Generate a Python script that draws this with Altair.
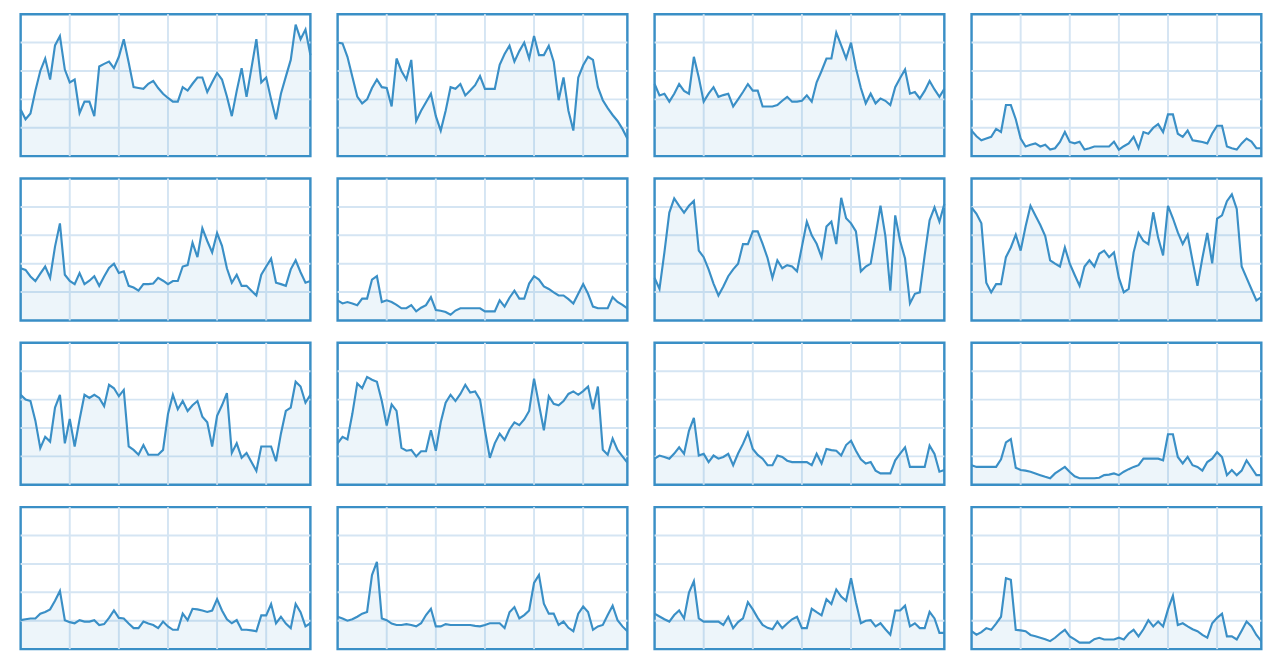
import altair as alt
import pandas as pd

minutes = list(range(60))
x_grid = [10, 20, 30, 40, 50]
y_grid = [1, 2, 3, 4]

p01 = [1.64,1.3,1.5,2.3,3.0,3.44,2.7,3.9,4.23,3.05,2.6,2.7,1.52,1.92,1.92,1.41,3.16,3.25,3.33,3.1,3.5,4.12,3.3,2.43,2.4,2.37,2.55,2.65,2.4,2.2,2.05,1.92,1.92,2.43,2.31,2.55,2.77,2.77,2.26,2.6,2.93,2.7,2.1,1.41,2.3,3.1,2.09,3.1,4.12,2.6,2.77,2.0,1.3,2.2,2.8,3.39,4.63,4.12,4.46,3.56]
p02 = [4.0,3.97,3.5,2.8,2.1,1.86,2.0,2.4,2.7,2.43,2.4,1.75,3.44,3.0,2.7,3.39,1.24,1.6,1.9,2.2,1.41,0.9,1.6,2.43,2.37,2.54,2.14,2.31,2.5,2.82,2.37,2.37,2.37,3.22,3.6,3.89,3.33,3.7,4.0,3.44,4.23,3.56,3.56,3.89,3.33,1.97,2.77,1.6,0.9,2.77,3.2,3.5,3.39,2.43,1.97,1.69,1.45,1.24,0.96,0.62]
p03 = [2.54,2.14,2.2,1.92,2.2,2.54,2.3,2.2,3.5,2.77,1.92,2.2,2.43,2.09,2.15,2.2,1.75,2.0,2.26,2.54,2.31,2.31,1.75,1.75,1.75,1.8,1.95,2.09,1.92,1.92,1.95,2.14,1.92,2.6,3.0,3.44,3.44,4.35,3.9,3.44,4.0,3.1,2.4,1.86,2.2,1.86,2.03,1.95,1.8,2.43,2.75,3.05,2.2,2.26,2.03,2.3,2.65,2.35,2.09,2.37]
p04 = [0.9,0.7,0.56,0.62,0.68,0.96,0.85,1.8,1.8,1.3,0.62,0.34,0.4,0.45,0.34,0.4,0.23,0.28,0.5,0.85,0.5,0.45,0.51,0.23,0.28,0.34,0.34,0.34,0.34,0.51,0.23,0.35,0.45,0.68,0.28,0.85,0.79,1.0,1.13,0.85,1.47,1.47,0.79,0.68,0.9,0.56,0.53,0.5,0.45,0.8,1.07,1.07,0.34,0.28,0.23,0.45,0.62,0.51,0.28,0.28]
p05 = [1.84,1.78,1.55,1.39,1.65,1.9,1.5,2.6,3.42,1.61,1.39,1.28,1.67,1.28,1.4,1.56,1.22,1.55,1.85,2.0,1.67,1.73,1.22,1.16,1.05,1.28,1.28,1.3,1.5,1.4,1.28,1.39,1.39,1.9,1.95,2.74,2.23,3.25,2.8,2.4,3.08,2.63,1.84,1.33,1.61,1.22,1.22,1.05,0.88,1.61,1.9,2.18,1.33,1.28,1.22,1.8,2.12,1.7,1.33,1.39]
p06 = [0.71,0.6,0.65,0.6,0.54,0.77,0.77,1.44,1.56,0.65,0.71,0.65,0.55,0.43,0.43,0.54,0.32,0.45,0.54,0.82,0.37,0.34,0.3,0.2,0.35,0.43,0.43,0.43,0.43,0.43,0.32,0.32,0.32,0.71,0.49,0.8,1.05,0.77,0.77,1.3,1.56,1.44,1.2,1.11,0.99,0.88,0.88,0.75,0.6,0.94,1.28,0.94,0.49,0.43,0.43,0.43,0.82,0.65,0.55,0.43]
p07 = [1.5,1.11,2.4,3.8,4.3,4.04,3.8,4.04,4.21,2.46,2.23,1.8,1.3,0.88,1.2,1.56,1.8,2.0,2.69,2.69,3.14,3.14,2.7,2.2,1.5,2.12,1.84,1.95,1.9,1.73,2.6,3.48,3.0,2.7,2.23,3.31,3.48,2.69,4.32,3.6,3.42,3.14,1.73,1.9,2.0,3.0,4.04,2.97,1.05,3.7,2.8,2.18,0.6,0.94,0.99,2.3,3.53,3.98,3.48,4.1]
p08 = [3.98,3.76,3.42,1.33,0.99,1.28,1.28,2.23,2.57,3.02,2.46,3.31,4.04,3.7,3.36,2.97,2.12,2.0,1.9,2.57,2.0,1.6,1.22,1.9,2.12,1.9,2.35,2.46,2.23,2.4,1.5,0.99,1.11,2.4,3.08,2.8,2.69,3.81,2.91,2.29,4.04,3.6,3.1,2.69,3.02,2.1,1.22,2.2,3.08,2.01,3.59,3.7,4.2,4.44,3.93,1.9,1.5,1.1,0.71,0.82]
p09 = [3.17,3.0,2.95,2.26,1.29,1.69,1.52,2.72,3.17,1.46,2.32,1.35,2.3,3.17,3.06,3.17,3.06,2.77,3.52,3.4,3.12,3.34,1.35,1.23,1.06,1.4,1.06,1.06,1.06,1.23,2.49,3.17,2.66,2.95,2.6,2.8,2.95,2.4,2.2,1.35,2.43,2.8,3.23,1.12,1.46,0.95,1.12,0.8,0.49,1.35,1.35,1.35,0.83,1.8,2.6,2.72,3.63,3.46,2.89,3.17]
p10 = [1.46,1.69,1.6,2.5,3.57,3.4,3.8,3.7,3.63,2.95,2.09,2.83,2.6,1.3,1.2,1.23,1.0,1.18,1.18,1.92,1.2,2.2,2.89,3.17,2.95,3.2,3.52,3.25,3.29,3.0,1.92,0.95,1.46,1.8,1.58,1.95,2.2,2.1,2.3,2.6,3.74,2.83,1.92,3.12,2.85,2.8,2.95,3.2,3.29,3.17,3.3,3.46,2.66,3.46,1.23,1.06,1.63,1.23,1.0,0.78]
p11 = [0.92,1.03,0.98,0.92,1.1,1.32,1.09,1.9,2.36,1.03,1.09,0.8,1.03,0.92,0.98,1.09,0.69,1.1,1.44,1.84,1.26,1.05,0.92,0.69,0.69,1.03,0.98,0.85,0.8,0.8,0.8,0.8,0.69,1.09,0.75,1.26,1.22,1.2,1.03,1.4,1.55,1.2,0.9,0.75,0.8,0.5,0.4,0.4,0.4,0.86,1.1,1.32,0.63,0.63,0.63,0.63,1.38,1.09,0.46,0.52]
p12 = [0.69,0.63,0.63,0.63,0.63,0.63,0.9,1.49,1.61,0.6,0.52,0.5,0.46,0.4,0.34,0.28,0.23,0.4,0.52,0.63,0.45,0.3,0.23,0.23,0.23,0.23,0.25,0.34,0.36,0.4,0.34,0.46,0.55,0.63,0.69,0.92,0.92,0.92,0.92,0.86,1.78,1.78,0.98,0.75,0.98,0.69,0.63,0.5,0.8,0.92,1.15,0.98,0.34,0.52,0.34,0.5,0.86,0.6,0.34,0.34]
p13 = [1.02,1.05,1.08,1.08,1.25,1.31,1.4,1.7,2.05,1.02,0.95,0.91,1.02,0.97,0.97,1.02,0.85,0.88,1.1,1.36,1.1,1.08,0.9,0.74,0.74,0.97,0.9,0.85,0.74,0.97,0.8,0.68,0.68,1.25,1.02,1.42,1.4,1.36,1.31,1.36,1.76,1.36,1.05,0.91,1.02,0.68,0.68,0.66,0.63,1.19,1.19,1.59,0.91,1.14,0.9,0.74,1.59,1.3,0.8,0.91]
p14 = [1.14,1.08,1.0,1.05,1.14,1.25,1.31,2.61,3.07,1.08,1.02,0.9,0.85,0.85,0.88,0.85,0.8,0.91,1.2,1.42,0.8,0.8,0.88,0.85,0.85,0.85,0.85,0.85,0.82,0.8,0.85,0.91,0.91,0.91,0.74,1.3,1.48,1.08,1.2,1.36,2.33,2.61,1.6,1.25,1.25,0.85,0.97,0.75,0.63,1.25,1.5,1.31,0.68,0.8,0.85,1.2,1.53,1.02,0.8,0.63]
p15 = [1.25,1.15,1.05,0.97,1.2,1.36,1.08,1.99,2.39,1.08,0.97,0.97,0.97,0.97,0.85,1.14,0.74,0.95,1.08,1.65,1.4,1.1,0.85,0.75,0.7,0.97,0.74,0.9,1.05,1.14,0.74,0.74,1.42,1.3,1.19,1.76,1.59,2.1,1.85,1.7,2.5,1.65,0.91,1.0,1.02,0.8,0.91,0.7,0.51,1.36,1.36,1.53,0.8,0.91,0.74,0.74,1.31,1.08,0.57,0.57]
p16 = [0.63,0.51,0.6,0.74,0.68,0.9,1.14,2.5,2.44,0.68,0.66,0.63,0.5,0.45,0.4,0.35,0.28,0.4,0.55,0.68,0.45,0.34,0.23,0.23,0.23,0.35,0.4,0.34,0.34,0.34,0.4,0.34,0.55,0.68,0.45,0.7,1.02,0.8,0.97,0.8,1.4,1.88,0.85,0.91,0.8,0.7,0.63,0.5,0.4,0.91,1.1,1.25,0.45,0.45,0.34,0.65,0.97,0.8,0.5,0.28]

series = [p01, p02, p03, p04, p05, p06, p07, p08,
          p09, p10, p11, p12, p13, p14, p15, p16]

rows = []
for i, vals in enumerate(series):
    for m, v in zip(minutes, vals):
        rows.append({"panel": i, "minute": m, "value": v})
df = pd.DataFrame(rows)
xg = pd.DataFrame({"minute": x_grid})
yg = pd.DataFrame({"value": y_grid})

LINE = "#3a8fc6"
GRID = "#d5e5f3"

xs = alt.Scale(domain=[0, 59], nice=False, zero=False)
ys = alt.Scale(domain=[0, 5], nice=False)


def panel(i):
    vgrid = alt.Chart(xg).mark_rule(color=GRID, strokeWidth=2).encode(
        x=alt.X("minute:Q", scale=xs, axis=None))
    hgrid = alt.Chart(yg).mark_rule(color=GRID, strokeWidth=2).encode(
        y=alt.Y("value:Q", scale=ys, axis=None))
    base = alt.Chart(df).transform_filter(alt.datum.panel == i)
    enc = dict(x=alt.X("minute:Q", scale=xs, axis=None),
               y=alt.Y("value:Q", scale=ys, axis=None))
    area = base.mark_area(color=LINE, fillOpacity=0.09).encode(**enc)
    line = base.mark_line(color=LINE, strokeWidth=2.2).encode(**enc)
    return alt.layer(vgrid, hgrid, area, line).properties(width=298, height=146)


grid_rows = [alt.hconcat(*[panel(r * 4 + c) for c in range(4)], spacing=16)
             for r in range(4)]

chart = alt.vconcat(*grid_rows, spacing=17).properties(
    padding={"left": 7, "top": -6, "right": 5, "bottom": 5},
    background="white"
).configure_view(
    stroke=LINE, strokeWidth=2.5
)

chart.save("out.html", embed_options={"renderer": "svg", "actions": False})
